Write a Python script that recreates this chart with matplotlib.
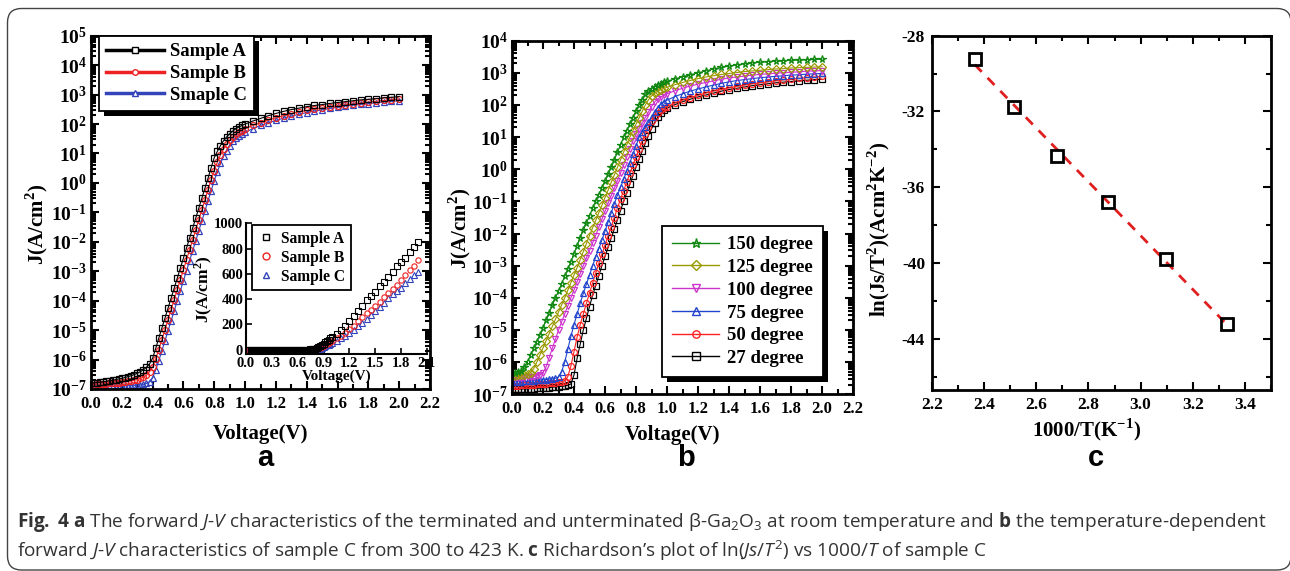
import numpy as np
import matplotlib
matplotlib.use('Agg')
import matplotlib.pyplot as plt
from matplotlib.lines import Line2D
from matplotlib.patches import Rectangle, FancyBboxPatch
from matplotlib.transforms import IdentityTransform
from matplotlib.ticker import LogLocator, MultipleLocator, NullFormatter

plt.rcParams['font.family'] = 'Liberation Serif'
plt.rcParams['font.weight'] = 'normal'
plt.rcParams['axes.labelweight'] = 'bold'
plt.rcParams['axes.unicode_minus'] = False
plt.rcParams['mathtext.fontset'] = 'custom'
plt.rcParams['mathtext.rm'] = 'Open Sans:weight=normal'
plt.rcParams['mathtext.it'] = 'Open Sans:style=italic:weight=normal'
plt.rcParams['mathtext.bf'] = 'Open Sans:weight=bold'

W, H = 1290, 571

# voltage grid (V): 0.02 V steps up to 1 V, then 0.05 V steps
volt = np.round(np.concatenate([np.arange(0, 1.001, 0.02), np.arange(1.05, 2.001, 0.05)]), 3)

# ---- panel a: log10 J (A/cm^2) ----
logj_a = [-6.80, -6.79, -6.78, -6.77, -6.75, -6.74, -6.72, -6.70, -6.68, -6.66, -6.64,
          -6.61, -6.58, -6.55, -6.51, -6.47, -6.41, -6.35, -6.26, -6.15, -5.95,
          -5.62, -5.27, -4.93, -4.59, -4.25, -3.91, -3.57, -3.23, -2.89, -2.55,
          -2.21, -1.87, -1.53, -1.19, -0.85, -0.51, -0.17, 0.17, 0.52, 0.86,
          1.07, 1.27, 1.43, 1.56, 1.67, 1.76, 1.84, 1.90, 1.95, 2.00,
          2.10, 2.19, 2.28, 2.36, 2.43, 2.49, 2.54, 2.59, 2.63, 2.66,
          2.70, 2.73, 2.76, 2.79, 2.82, 2.84, 2.86, 2.89, 2.91, 2.93]
logj_b = [-6.85, -6.85, -6.84, -6.83, -6.83, -6.82, -6.81, -6.80, -6.79, -6.78, -6.77,
          -6.76, -6.74, -6.72, -6.70, -6.68, -6.64, -6.60, -6.53, -6.41, -6.25,
          -5.98, -5.66, -5.33, -4.99, -4.65, -4.31, -3.97, -3.63, -3.29, -2.95,
          -2.61, -2.27, -1.93, -1.59, -1.25, -0.91, -0.57, -0.23, 0.10, 0.42,
          0.70, 0.95, 1.15, 1.31, 1.45, 1.56, 1.65, 1.72, 1.78, 1.84,
          1.95, 2.04, 2.13, 2.21, 2.28, 2.35, 2.41, 2.46, 2.50, 2.54,
          2.58, 2.62, 2.65, 2.68, 2.71, 2.74, 2.77, 2.80, 2.82, 2.85]
logj_c = [-6.92, -6.92, -6.92, -6.92, -6.91, -6.91, -6.91, -6.91, -6.91, -6.90, -6.90,
          -6.90, -6.89, -6.89, -6.88, -6.87, -6.86, -6.84, -6.81, -6.75, -6.62,
          -6.35, -6.04, -5.70, -5.36, -5.02, -4.68, -4.34, -4.00, -3.66, -3.32,
          -2.98, -2.64, -2.30, -1.96, -1.62, -1.28, -0.94, -0.60, -0.26, 0.08,
          0.38, 0.66, 0.90, 1.10, 1.27, 1.41, 1.52, 1.60, 1.67, 1.72,
          1.84, 1.95, 2.04, 2.12, 2.20, 2.27, 2.33, 2.39, 2.44, 2.48,
          2.53, 2.57, 2.61, 2.64, 2.67, 2.69, 2.72, 2.75, 2.77, 2.79]
labels_a = ['Sample A', 'Sample B', 'Smaple C']
labels_inset = ['Sample A', 'Sample B', 'Sample C']

# ---- panel b: log10 J at different temperatures ----
logj_150 = [-6.35, -6.34, -6.32, -6.28, -6.15, -5.98, -5.78, -5.57, -5.36, -5.16, -4.94,
            -4.70, -4.47, -4.23, -4.00, -3.78, -3.56, -3.33, -3.11, -2.88, -2.63,
            -2.38, -2.13, -1.89, -1.67, -1.44, -1.22, -1.00, -0.79, -0.58, -0.37,
            -0.16, 0.06, 0.29, 0.53, 0.76, 1.00, 1.20, 1.40, 1.60, 1.80,
            2.00, 2.17, 2.33, 2.43, 2.50, 2.56, 2.61, 2.66, 2.70, 2.74,
            2.81, 2.88, 2.94, 3.00, 3.06, 3.12, 3.17, 3.21, 3.25, 3.28,
            3.31, 3.33, 3.35, 3.37, 3.38, 3.39, 3.40, 3.41, 3.42, 3.42]
logj_125 = [-6.42, -6.42, -6.41, -6.40, -6.39, -6.37, -6.33, -6.20, -6.00, -5.78, -5.56,
            -5.33, -5.11, -4.89, -4.67, -4.44, -4.22, -4.00, -3.76, -3.53, -3.29,
            -3.06, -2.81, -2.56, -2.31, -2.06, -1.82, -1.59, -1.35, -1.12, -0.88,
            -0.65, -0.41, -0.18, 0.06, 0.29, 0.53, 0.76, 1.00, 1.20, 1.40,
            1.60, 1.80, 2.00, 2.16, 2.28, 2.36, 2.43, 2.48, 2.52, 2.55,
            2.63, 2.70, 2.76, 2.82, 2.87, 2.91, 2.95, 2.98, 3.01, 3.04,
            3.06, 3.08, 3.10, 3.12, 3.13, 3.15, 3.16, 3.17, 3.18, 3.19]
logj_100 = [-6.50, -6.50, -6.49, -6.49, -6.48, -6.47, -6.46, -6.45, -6.43, -6.40, -6.33,
            -6.14, -5.86, -5.57, -5.29, -5.00, -4.75, -4.50, -4.25, -4.00, -3.75,
            -3.50, -3.25, -3.00, -2.76, -2.53, -2.29, -2.06, -1.81, -1.56, -1.31,
            -1.06, -0.82, -0.59, -0.35, -0.12, 0.13, 0.38, 0.63, 0.88, 1.09,
            1.26, 1.43, 1.61, 1.78, 1.95, 2.09, 2.19, 2.25, 2.30, 2.35,
            2.44, 2.52, 2.59, 2.65, 2.70, 2.75, 2.80, 2.84, 2.87, 2.90,
            2.93, 2.95, 2.97, 2.99, 3.00, 3.02, 3.03, 3.05, 3.06, 3.07]
logj_75 = [-6.62, -6.62, -6.61, -6.61, -6.60, -6.60, -6.59, -6.58, -6.57, -6.56, -6.55,
           -6.54, -6.53, -6.52, -6.50, -6.46, -6.30, -6.00, -5.60, -5.20, -4.83,
           -4.50, -4.17, -3.86, -3.57, -3.29, -3.00, -2.73, -2.47, -2.20, -1.93,
           -1.64, -1.36, -1.07, -0.81, -0.56, -0.31, -0.06, 0.20, 0.47, 0.73,
           1.00, 1.16, 1.31, 1.46, 1.62, 1.77, 1.92, 2.03, 2.10, 2.15,
           2.26, 2.35, 2.43, 2.50, 2.56, 2.62, 2.67, 2.72, 2.76, 2.79,
           2.82, 2.85, 2.87, 2.89, 2.91, 2.93, 2.94, 2.96, 2.97, 2.98]
logj_50 = [-6.74, -6.73, -6.73, -6.72, -6.72, -6.71, -6.71, -6.70, -6.69, -6.69, -6.68,
           -6.67, -6.66, -6.65, -6.64, -6.63, -6.61, -6.58, -6.45, -6.12, -5.67,
           -5.22, -4.83, -4.50, -4.17, -3.85, -3.54, -3.23, -2.93, -2.64, -2.36,
           -2.07, -1.79, -1.50, -1.21, -0.93, -0.67, -0.40, -0.13, 0.13, 0.38,
           0.63, 0.88, 1.11, 1.32, 1.50, 1.63, 1.75, 1.84, 1.90, 1.95,
           2.06, 2.15, 2.23, 2.30, 2.37, 2.43, 2.48, 2.53, 2.58, 2.62,
           2.66, 2.69, 2.72, 2.75, 2.78, 2.80, 2.83, 2.85, 2.87, 2.89]
logj_27 = [-6.85, -6.85, -6.84, -6.84, -6.83, -6.83, -6.82, -6.82, -6.81, -6.81, -6.80,
           -6.79, -6.79, -6.78, -6.77, -6.76, -6.75, -6.74, -6.72, -6.68, -6.40,
           -5.88, -5.44, -5.00, -4.64, -4.27, -3.92, -3.62, -3.31, -3.00, -2.71,
           -2.43, -2.14, -1.86, -1.57, -1.29, -1.00, -0.73, -0.47, -0.20, 0.06,
           0.31, 0.56, 0.81, 1.05, 1.26, 1.45, 1.62, 1.74, 1.83, 1.90,
           2.01, 2.10, 2.18, 2.25, 2.31, 2.37, 2.43, 2.48, 2.52, 2.56,
           2.60, 2.63, 2.66, 2.69, 2.71, 2.73, 2.75, 2.77, 2.79, 2.80]
temps_b = ['150 degree', '125 degree', '100 degree', '75 degree', '50 degree', '27 degree']

# ---- panel c: Richardson plot ----
inv_t = [2.364, 2.513, 2.681, 2.874, 3.096, 3.333]
ln_js_t2 = [-29.25, -31.75, -34.33, -36.79, -39.79, -43.24]

fig = plt.figure(figsize=(W / 100, H / 100), dpi=100)
fig.patch.set_facecolor('white')


def add_axes_px(x0, y0, x1, y1):
    # pixel box (left, top, right, bottom) measured from the top-left corner
    return fig.add_axes([x0 / W, 1 - y1 / H, (x1 - x0) / W, (y1 - y0) / H])


def style_axes(ax, lw=2.0):
    for s in ax.spines.values():
        s.set_linewidth(lw)
    ax.tick_params(which='both', direction='in', top=True, right=True, width=1.5)
    ax.tick_params(which='major', length=6)
    ax.tick_params(which='minor', length=3.5)


def bold_ticks(ax):
    for t in ax.xaxis.get_major_ticks() + ax.yaxis.get_major_ticks():
        t.label1.set_fontweight('bold')
        t.label2.set_fontweight('bold')


def log_ticks(ax):
    ax.set_yscale('log')
    ax.yaxis.set_major_locator(LogLocator(base=10, numticks=30))
    ax.yaxis.set_minor_locator(LogLocator(base=10, subs=np.arange(2, 10), numticks=30))
    ax.yaxis.set_minor_formatter(NullFormatter())


def shadow(ax, leg, dx=5, dy=5):
    fig.canvas.draw()
    bb = leg.get_frame().get_window_extent(fig.canvas.get_renderer())
    r = Rectangle((bb.x0 + dx, bb.y0 - dy), bb.width, bb.height, transform=IdentityTransform(),
                  facecolor='black', edgecolor='none', zorder=4.9, clip_on=False)
    ax.add_artist(r)


# ================= panel a =================
ax1 = add_axes_px(91, 35.7, 430, 389)
col_a = ['black', '#ee2222', '#3344bb']
mk_a = ['s', 'o', '^']
for lj, c, m in zip([logj_c, logj_b, logj_a], col_a[::-1], mk_a[::-1]):
    ax1.plot(volt, 10 ** np.array(lj), color=c, lw=0.8, marker=m, ms=4.3, mfc='none', mew=0.9)
log_ticks(ax1)
ax1.set_ylim(1e-7, 1e5)
ax1.set_xlim(0, 2.2)
ax1.xaxis.set_major_locator(MultipleLocator(0.2))
ax1.xaxis.set_minor_locator(MultipleLocator(0.1))
ax1.xaxis.set_major_formatter(plt.FuncFormatter(lambda v, p: f'{v:.1f}'))
style_axes(ax1)
ax1.tick_params(axis='x', labelsize=12, pad=5)
ax1.tick_params(axis='y', labelsize=14, pad=3)
bold_ticks(ax1)
ax1.set_xlabel('Voltage(V)', fontsize=15)
ax1.set_ylabel('J(A/cm$^{\\mathdefault{2}}$)', fontsize=15)
ax1.xaxis.set_label_coords(0.5, -0.1)
ax1.yaxis.set_label_coords(-0.12, 0.465)

hand_a = [Line2D([], [], color=c, lw=2.5, marker=m, ms=4, mfc='white', mew=1)
          for c, m in zip(col_a, mk_a)]
leg1 = ax1.legend(hand_a, labels_a, loc='upper left', bbox_to_anchor=(0.0236, 1.0),
                  borderaxespad=0, fancybox=False, framealpha=1, edgecolor='black',
                  prop={'size': 13.4, 'weight': 'bold'}, handlelength=3.1,
                  handletextpad=0.3, labelspacing=0.26, borderpad=0.4)
leg1.get_frame().set_linewidth(1.3)

# inset
axi = add_axes_px(246, 223.3, 427, 354)
for lj, c, m in zip([logj_c, logj_b, logj_a], col_a[::-1], mk_a[::-1]):
    axi.plot(volt, 10 ** np.array(lj), ls='none', color=c, marker=m, ms=3.8, mfc='none', mew=0.8)
axi.set_facecolor('none')
axi.set_xlim(0, 2.1)
axi.set_ylim(-35, 1000)
axi.xaxis.set_major_locator(MultipleLocator(0.3))
axi.yaxis.set_major_locator(MultipleLocator(200))
axi.xaxis.set_major_formatter(plt.FuncFormatter(lambda v, p: f'{v:.1f}'))
for s in ['top', 'right']:
    axi.spines[s].set_visible(False)
for s in ['left', 'bottom']:
    axi.spines[s].set_linewidth(1.5)
axi.tick_params(direction='in', length=4, width=1.2, labelsize=10.5, pad=2)
bold_ticks(axi)
axi.set_xlabel('Voltage(V)', fontsize=11, labelpad=0)
axi.set_ylabel('J(A/cm$^{\\mathdefault{2}}$)', fontsize=12.5, labelpad=0)
hand_i = [Line2D([], [], ls='none', color=c, marker=m, ms=5, mfc='none', mew=1)
          for c, m in zip(col_a, mk_a)]
legi = axi.legend(hand_i, labels_inset, loc='upper left', bbox_to_anchor=(0.035, 0.985),
                  borderaxespad=0, fancybox=False, framealpha=1, edgecolor='black',
                  prop={'size': 11.2, 'weight': 'bold'}, handlelength=1.0,
                  handletextpad=0.5, labelspacing=0.2, borderpad=0.35)
legi.get_frame().set_linewidth(1.3)

# ================= panel b =================
ax2 = add_axes_px(512, 40.7, 853, 394.3)
series_b = [logj_150, logj_125, logj_100, logj_75, logj_50, logj_27]
col_b = ['#118811', '#999900', '#cc33cc', '#2244cc', '#ff2222', 'black']
mk_b = ['*', 'D', 'v', '^', 'o', 's']
ms_b = [5.5, 3.8, 4.3, 4.3, 4.3, 4.3]
for lj, c, m, s in list(zip(series_b, col_b, mk_b, ms_b))[::-1]:
    ax2.plot(volt, 10 ** np.array(lj), color=c, lw=0.8, marker=m, ms=s, mfc='none', mew=0.9)
log_ticks(ax2)
ax2.set_ylim(1e-7, 1e4)
ax2.set_xlim(0, 2.2)
ax2.xaxis.set_major_locator(MultipleLocator(0.2))
ax2.xaxis.set_minor_locator(MultipleLocator(0.1))
ax2.xaxis.set_major_formatter(plt.FuncFormatter(lambda v, p: f'{v:.1f}'))
style_axes(ax2)
ax2.tick_params(axis='x', labelsize=12, pad=5)
ax2.tick_params(axis='y', labelsize=14, pad=3)
bold_ticks(ax2)
ax2.set_xlabel('Voltage(V)', fontsize=15)
ax2.set_ylabel('J(A/cm$^{\\mathdefault{2}}$)', fontsize=15)
ax2.xaxis.set_label_coords(0.47, -0.088)
ax2.yaxis.set_label_coords(-0.114, 0.47)
hand_b = [Line2D([], [], color=c, lw=1, marker=m, ms=s + 1, mfc='none', mew=1)
          for c, m, s in zip(col_b, mk_b, ms_b)]
leg2 = ax2.legend(hand_b, temps_b, loc='lower right', bbox_to_anchor=(0.912, 0.048),
                  borderaxespad=0, fancybox=False, framealpha=1, edgecolor='black',
                  prop={'size': 13.5, 'weight': 'bold'}, handlelength=2.5,
                  handletextpad=0.4, labelspacing=0.3, borderpad=0.55)
leg2.get_frame().set_linewidth(1.3)

# ================= panel c =================
ax3 = add_axes_px(932, 35.7, 1271, 390)
ax3.plot(inv_t, ln_js_t2, ls='none', marker='s', ms=8.5, mfc='none', mec='black', mew=2, zorder=3)
k, b0 = np.polyfit(inv_t, ln_js_t2, 1)
xf = np.array([inv_t[0], inv_t[-1]])
ax3.plot(xf, k * xf + b0, color='#e02020', lw=2, ls=(0, (3.6, 3)), zorder=2)
ax3.set_xlim(2.2, 3.5)
ax3.set_ylim(-46.7, -28)
ax3.xaxis.set_major_locator(MultipleLocator(0.2))
ax3.xaxis.set_minor_locator(MultipleLocator(0.1))
ax3.yaxis.set_major_locator(MultipleLocator(4))
ax3.yaxis.set_minor_locator(MultipleLocator(2))
ax3.xaxis.set_major_formatter(plt.FuncFormatter(lambda v, p: f'{v:.1f}'))
ax3.yaxis.set_major_formatter(plt.FuncFormatter(lambda v, p: f'{v:.0f}'))
style_axes(ax3)
ax3.tick_params(labelsize=12.5, pad=5)
bold_ticks(ax3)
ax3.set_xlabel('1000/T(K$^{\\mathdefault{-1}}$)', fontsize=15)
ax3.set_ylabel('ln(Js/T$^{\\mathdefault{2}}$)(Acm$^{\\mathdefault{2}}$K$^{\\mathdefault{-2}}$)', fontsize=15)
ax3.xaxis.set_label_coords(0.456, -0.075)
ax3.yaxis.set_label_coords(-0.118, 0.452)

# legend shadows
shadow(ax1, leg1)
shadow(ax2, leg2)

# ================= labels, caption, frame =================
for x, t in [(265, 'a'), (686, 'b'), (1096, 'c')]:
    fig.text(x / W, 1 - 458 / H, t, family='Liberation Sans', weight='bold', fontsize=21,
             ha='center', va='center')

cap1 = ('$\\mathbf{Fig.}$ $\\mathbf{4}$ $\\mathbf{a}$ The forward $\\mathit{J}$-$\\mathit{V}$ '
        'characteristics of the terminated and unterminated '
        '\u03b2-Ga$_{\\mathdefault{2}}$O$_{\\mathdefault{3}}$ at room '
        'temperature and $\\mathbf{b}$ the temperature-dependent')
cap2 = ('forward $\\mathit{J}$-$\\mathit{V}$ characteristics of sample C from 300 to 423 K. '
        '$\\mathbf{c}$ Richardson\u2019s plot of ln($\\mathit{Js/T}^{\\mathdefault{2}}$) vs '
        '1000/$\\mathit{T}$ of sample C')
fig.text(17 / W, 1 - 522 / H, cap1, family='Open Sans', weight='normal', fontsize=13.7,
         color='#333333', ha='left', va='center')
fig.text(17 / W, 1 - 551 / H, cap2, family='Open Sans', weight='normal', fontsize=13.7,
         color='#333333', ha='left', va='center')

frame = FancyBboxPatch((7.5, 1), 1290 - 7.5 + 1, H - 8.5 - 1,
                       boxstyle='round,pad=0,rounding_size=14', transform=IdentityTransform(),
                       facecolor='none', edgecolor='#444444', lw=1.0)
fig.patches.append(frame)

fig.savefig('out.png', dpi=100)
